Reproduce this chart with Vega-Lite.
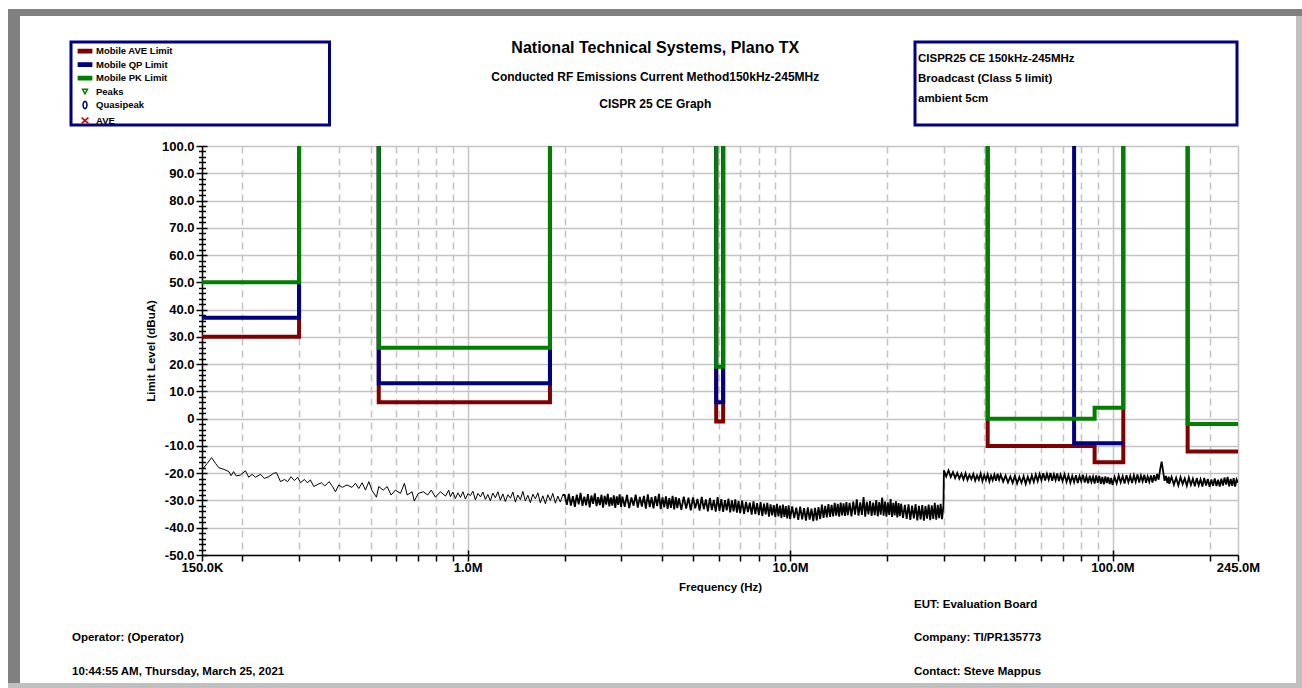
{
"$schema": "https://vega.github.io/schema/vega-lite/v6.json",
"background": "white",
"padding": {"left": 8, "top": 9, "right": 0, "bottom": 0},
"config": {"font": "Liberation Sans", "view": {"stroke": null}, "concat": {"spacing": 0}},
"datasets": {
"legendItems": [
{"series": "Mobile AVE Limit"}, {"series": "Mobile QP Limit"}, {"series": "Mobile PK Limit"},
{"series": "Peaks"}, {"series": "Quasipeak"}, {"series": "AVE"}
],
"limits": [
{"limit": "AVE", "band": "LW", "f": 0.15, "dB": 30}, {"limit": "AVE", "band": "LW", "f": 0.3, "dB": 30}, {"limit": "AVE", "band": "LW", "f": 0.3, "dB": 100},
{"limit": "AVE", "band": "MW", "f": 0.53, "dB": 100}, {"limit": "AVE", "band": "MW", "f": 0.53, "dB": 6}, {"limit": "AVE", "band": "MW", "f": 1.8, "dB": 6}, {"limit": "AVE", "band": "MW", "f": 1.8, "dB": 100},
{"limit": "AVE", "band": "SW", "f": 5.9, "dB": 100}, {"limit": "AVE", "band": "SW", "f": 5.9, "dB": -1}, {"limit": "AVE", "band": "SW", "f": 6.2, "dB": -1}, {"limit": "AVE", "band": "SW", "f": 6.2, "dB": 100},
{"limit": "AVE", "band": "VHF", "f": 41, "dB": 100}, {"limit": "AVE", "band": "VHF", "f": 41, "dB": -10}, {"limit": "AVE", "band": "VHF", "f": 88, "dB": -10}, {"limit": "AVE", "band": "VHF", "f": 88, "dB": -16}, {"limit": "AVE", "band": "VHF", "f": 108, "dB": -16}, {"limit": "AVE", "band": "VHF", "f": 108, "dB": 100},
{"limit": "AVE", "band": "DAB", "f": 171, "dB": 100}, {"limit": "AVE", "band": "DAB", "f": 171, "dB": -12}, {"limit": "AVE", "band": "DAB", "f": 245, "dB": -12},
{"limit": "QP", "band": "LW", "f": 0.15, "dB": 37}, {"limit": "QP", "band": "LW", "f": 0.3, "dB": 37}, {"limit": "QP", "band": "LW", "f": 0.3, "dB": 100},
{"limit": "QP", "band": "MW", "f": 0.53, "dB": 100}, {"limit": "QP", "band": "MW", "f": 0.53, "dB": 13}, {"limit": "QP", "band": "MW", "f": 1.8, "dB": 13}, {"limit": "QP", "band": "MW", "f": 1.8, "dB": 100},
{"limit": "QP", "band": "SW", "f": 5.9, "dB": 100}, {"limit": "QP", "band": "SW", "f": 5.9, "dB": 6}, {"limit": "QP", "band": "SW", "f": 6.2, "dB": 6}, {"limit": "QP", "band": "SW", "f": 6.2, "dB": 100},
{"limit": "QP", "band": "FM", "f": 76, "dB": 100}, {"limit": "QP", "band": "FM", "f": 76, "dB": -9}, {"limit": "QP", "band": "FM", "f": 108, "dB": -9},
{"limit": "PK", "band": "LW", "f": 0.15, "dB": 50}, {"limit": "PK", "band": "LW", "f": 0.3, "dB": 50}, {"limit": "PK", "band": "LW", "f": 0.3, "dB": 100},
{"limit": "PK", "band": "MW", "f": 0.53, "dB": 100}, {"limit": "PK", "band": "MW", "f": 0.53, "dB": 26}, {"limit": "PK", "band": "MW", "f": 1.8, "dB": 26}, {"limit": "PK", "band": "MW", "f": 1.8, "dB": 100},
{"limit": "PK", "band": "SW", "f": 5.9, "dB": 100}, {"limit": "PK", "band": "SW", "f": 5.9, "dB": 19}, {"limit": "PK", "band": "SW", "f": 6.2, "dB": 19}, {"limit": "PK", "band": "SW", "f": 6.2, "dB": 100},
{"limit": "PK", "band": "VHF", "f": 41, "dB": 100}, {"limit": "PK", "band": "VHF", "f": 41, "dB": 0}, {"limit": "PK", "band": "VHF", "f": 88, "dB": 0}, {"limit": "PK", "band": "VHF", "f": 88, "dB": 4}, {"limit": "PK", "band": "VHF", "f": 108, "dB": 4}, {"limit": "PK", "band": "VHF", "f": 108, "dB": 100},
{"limit": "PK", "band": "DAB", "f": 171, "dB": 100}, {"limit": "PK", "band": "DAB", "f": 171, "dB": -2}, {"limit": "PK", "band": "DAB", "f": 245, "dB": -2}
],
"trace": [
{"f":0.1513,"dB":-18.2},{"f":0.1557,"dB":-16.4},{"f":0.1606,"dB":-14.3},{"f":0.1652,"dB":-16.4},{"f":0.1692,"dB":-18.0},{"f":0.1754,"dB":-18.6},{"f":0.1817,"dB":-19.4},{"f":0.1847,"dB":-20.9},{"f":0.188,"dB":-19.4},{"f":0.1915,"dB":-21.0},
{"f":0.1974,"dB":-20.7},{"f":0.2046,"dB":-19.1},{"f":0.2094,"dB":-21.5},{"f":0.2145,"dB":-20.4},{"f":0.2197,"dB":-21.5},{"f":0.2277,"dB":-20.4},{"f":0.2343,"dB":-21.9},{"f":0.2416,"dB":-21.3},{"f":0.2495,"dB":-20.1},{"f":0.2554,"dB":-19.8},
{"f":0.2627,"dB":-23.1},{"f":0.2703,"dB":-22.3},{"f":0.2764,"dB":-23.1},{"f":0.2833,"dB":-21.3},{"f":0.2901,"dB":-22.7},{"f":0.2972,"dB":-21.5},{"f":0.303,"dB":-23.5},{"f":0.3118,"dB":-22.3},{"f":0.3181,"dB":-23.5},{"f":0.3254,"dB":-22.5},
{"f":0.3333,"dB":-24.9},{"f":0.3431,"dB":-24.1},{"f":0.3518,"dB":-23.5},{"f":0.3605,"dB":-24.7},{"f":0.3718,"dB":-23.1},{"f":0.3809,"dB":-24.9},{"f":0.389,"dB":-26.8},{"f":0.3984,"dB":-24.3},{"f":0.4082,"dB":-25.2},{"f":0.4224,"dB":-24.3},
{"f":0.4376,"dB":-25.2},{"f":0.4487,"dB":-23.7},{"f":0.4596,"dB":-25.6},{"f":0.4708,"dB":-23.5},{"f":0.482,"dB":-26.2},{"f":0.4937,"dB":-23.1},{"f":0.5054,"dB":-26.4},{"f":0.5213,"dB":-28.8},{"f":0.53,"dB":-24.9},{"f":0.5473,"dB":-26.2},
{"f":0.5628,"dB":-24.9},{"f":0.579,"dB":-28.0},{"f":0.5971,"dB":-26.2},{"f":0.6188,"dB":-27.4},{"f":0.6367,"dB":-23.7},{"f":0.6493,"dB":-28.0},{"f":0.6727,"dB":-26.8},{"f":0.6831,"dB":-30.2},{"f":0.7031,"dB":-27.4},{"f":0.7289,"dB":-26.8},
{"f":0.7514,"dB":-28.0},{"f":0.7713,"dB":-26.2},{"f":0.7945,"dB":-28.8},{"f":0.8234,"dB":-26.8},{"f":0.8533,"dB":-28.4},{"f":0.8736,"dB":-26.2},
{"f":0.884,"dB":-28.6},{"f":0.9,"dB":-26.9},{"f":0.916,"dB":-29.3},{"f":0.933,"dB":-27.2},{"f":0.95,"dB":-28.9},{"f":0.967,"dB":-26.8},{"f":0.984,"dB":-29.5},{"f":1.002,"dB":-27.5},{"f":1.02,"dB":-28.2},{"f":1.038,"dB":-26.6},
{"f":1.057,"dB":-29.8},{"f":1.076,"dB":-27.4},{"f":1.096,"dB":-28.7},{"f":1.115,"dB":-26.9},{"f":1.135,"dB":-29.6},{"f":1.155,"dB":-27.8},{"f":1.176,"dB":-30.1},{"f":1.197,"dB":-27.3},{"f":1.219,"dB":-29.0},{"f":1.241,"dB":-26.8},
{"f":1.263,"dB":-29.9},{"f":1.286,"dB":-27.6},{"f":1.309,"dB":-30.4},{"f":1.333,"dB":-27.9},{"f":1.357,"dB":-29.2},{"f":1.381,"dB":-26.9},{"f":1.406,"dB":-30.6},{"f":1.431,"dB":-28.0},{"f":1.457,"dB":-29.7},{"f":1.483,"dB":-26.7},
{"f":1.51,"dB":-30.2},{"f":1.537,"dB":-28.1},{"f":1.565,"dB":-30.8},{"f":1.593,"dB":-27.7},{"f":1.622,"dB":-29.4},{"f":1.651,"dB":-27.2},{"f":1.68,"dB":-30.9},{"f":1.711,"dB":-28.3},{"f":1.742,"dB":-31.2},{"f":1.773,"dB":-27.9},
{"f":1.805,"dB":-30.0},{"f":1.837,"dB":-27.4},{"f":1.871,"dB":-31.0},{"f":1.904,"dB":-28.4},{"f":1.938,"dB":-30.6},{"f":1.973,"dB":-27.9},
{"f":2.0,"dB":-28.0},{"f":2.03,"dB":-31.6},{"f":2.06,"dB":-27.6},{"f":2.09,"dB":-31.9},{"f":2.12,"dB":-28.4},{"f":2.15,"dB":-32.3},{"f":2.18,"dB":-27.9},{"f":2.21,"dB":-31.4},{"f":2.24,"dB":-27.2},{"f":2.27,"dB":-32.0},
{"f":2.3,"dB":-28.6},{"f":2.33,"dB":-31.8},{"f":2.36,"dB":-27.7},{"f":2.39,"dB":-32.5},{"f":2.42,"dB":-28.2},{"f":2.45,"dB":-31.2},{"f":2.48,"dB":-27.4},{"f":2.51,"dB":-32.1},{"f":2.54,"dB":-28.8},{"f":2.57,"dB":-31.7},
{"f":2.6,"dB":-27.9},{"f":2.63,"dB":-32.6},{"f":2.66,"dB":-28.3},{"f":2.69,"dB":-31.5},{"f":2.72,"dB":-27.6},{"f":2.75,"dB":-32.2},{"f":2.78,"dB":-28.9},{"f":2.81,"dB":-31.9},{"f":2.84,"dB":-28.1},{"f":2.87,"dB":-32.7},
{"f":2.9,"dB":-28.5},{"f":2.93,"dB":-31.6},{"f":2.96,"dB":-27.8},{"f":2.99,"dB":-32.4},
{"f":3.02,"dB":-28.6},{"f":3.07,"dB":-32.3},{"f":3.12,"dB":-28.0},{"f":3.17,"dB":-32.8},{"f":3.22,"dB":-28.9},{"f":3.27,"dB":-31.9},{"f":3.32,"dB":-27.9},{"f":3.37,"dB":-32.6},{"f":3.42,"dB":-28.7},{"f":3.47,"dB":-32.2},
{"f":3.52,"dB":-28.3},{"f":3.57,"dB":-33.0},{"f":3.62,"dB":-27.8},{"f":3.67,"dB":-32.4},{"f":3.72,"dB":-28.8},{"f":3.77,"dB":-32.9},{"f":3.82,"dB":-28.4},{"f":3.87,"dB":-32.1},{"f":3.92,"dB":-27.6},{"f":3.97,"dB":-33.2},
{"f":4.02,"dB":-28.9},{"f":4.07,"dB":-32.5},{"f":4.12,"dB":-28.5},{"f":4.17,"dB":-33.1},{"f":4.22,"dB":-29.1},{"f":4.27,"dB":-32.7},{"f":4.32,"dB":-28.3},{"f":4.37,"dB":-33.3},{"f":4.42,"dB":-28.8},{"f":4.47,"dB":-32.8},
{"f":4.52,"dB":-29.2},{"f":4.6,"dB":-33.4},{"f":4.68,"dB":-28.6},{"f":4.76,"dB":-33.0},{"f":4.84,"dB":-29.0},{"f":4.92,"dB":-33.6},{"f":5.0,"dB":-28.9},{"f":5.08,"dB":-32.9},{"f":5.16,"dB":-29.4},{"f":5.24,"dB":-33.7},
{"f":5.32,"dB":-28.7},{"f":5.4,"dB":-33.2},{"f":5.48,"dB":-29.6},{"f":5.56,"dB":-34.0},{"f":5.64,"dB":-29.1},{"f":5.72,"dB":-33.5},{"f":5.8,"dB":-29.8},{"f":5.88,"dB":-34.1},{"f":5.96,"dB":-28.8},{"f":6.04,"dB":-33.8},
{"f":6.12,"dB":-29.5},{"f":6.2,"dB":-34.2},{"f":6.28,"dB":-29.9},{"f":6.36,"dB":-33.6},{"f":6.44,"dB":-29.3},{"f":6.52,"dB":-34.4},{"f":6.6,"dB":-30.0},{"f":6.68,"dB":-34.0},{"f":6.76,"dB":-29.6},{"f":6.84,"dB":-34.5},
{"f":6.92,"dB":-30.2},
{"f":7.0,"dB":-34.6},{"f":7.1,"dB":-30.1},{"f":7.2,"dB":-34.9},{"f":7.3,"dB":-30.5},{"f":7.4,"dB":-34.3},{"f":7.5,"dB":-30.8},{"f":7.6,"dB":-35.2},{"f":7.7,"dB":-30.3},{"f":7.8,"dB":-35.0},{"f":7.9,"dB":-31.0},
{"f":8.0,"dB":-35.4},{"f":8.1,"dB":-30.6},{"f":8.2,"dB":-35.7},{"f":8.3,"dB":-31.2},{"f":8.4,"dB":-35.1},{"f":8.5,"dB":-30.9},{"f":8.6,"dB":-35.9},{"f":8.7,"dB":-31.4},{"f":8.8,"dB":-35.5},{"f":8.9,"dB":-31.7},
{"f":9.0,"dB":-36.1},{"f":9.1,"dB":-31.2},{"f":9.2,"dB":-35.8},{"f":9.3,"dB":-31.9},{"f":9.4,"dB":-36.4},{"f":9.5,"dB":-31.5},{"f":9.6,"dB":-36.0},{"f":9.7,"dB":-32.1},{"f":9.8,"dB":-36.6},{"f":9.9,"dB":-31.8},
{"f":10.0,"dB":-36.8},{"f":10.15,"dB":-32.2},{"f":10.3,"dB":-36.5},{"f":10.45,"dB":-32.6},{"f":10.6,"dB":-37.1},{"f":10.75,"dB":-32.3},{"f":10.9,"dB":-36.9},{"f":11.05,"dB":-32.8},{"f":11.2,"dB":-37.4},{"f":11.35,"dB":-32.5},
{"f":11.5,"dB":-37.0},{"f":11.65,"dB":-33.0},{"f":11.8,"dB":-37.6},{"f":11.95,"dB":-32.7},{"f":12.1,"dB":-37.3},{"f":12.25,"dB":-32.4},{"f":12.4,"dB":-36.8},{"f":12.55,"dB":-31.5},{"f":12.7,"dB":-36.4},{"f":12.85,"dB":-32.0},
{"f":13.0,"dB":-36.2},{"f":13.15,"dB":-31.3},{"f":13.3,"dB":-36.0},{"f":13.45,"dB":-31.6},{"f":13.6,"dB":-35.8},{"f":13.75,"dB":-30.9},{"f":13.9,"dB":-35.6},{"f":14.05,"dB":-31.2},{"f":14.2,"dB":-35.9},{"f":14.35,"dB":-30.8},
{"f":14.5,"dB":-35.5},{"f":14.65,"dB":-31.1},{"f":14.8,"dB":-35.7},{"f":14.95,"dB":-30.6},
{"f":15.1,"dB":-35.4},{"f":15.3,"dB":-30.9},{"f":15.5,"dB":-35.8},{"f":15.7,"dB":-30.4},{"f":15.9,"dB":-35.2},{"f":16.1,"dB":-29.6},{"f":16.3,"dB":-35.6},{"f":16.5,"dB":-30.7},{"f":16.7,"dB":-35.3},{"f":16.9,"dB":-28.8},
{"f":17.1,"dB":-35.9},{"f":17.3,"dB":-30.5},{"f":17.5,"dB":-35.1},{"f":17.7,"dB":-30.2},{"f":17.9,"dB":-35.7},{"f":18.1,"dB":-30.8},{"f":18.3,"dB":-35.4},{"f":18.5,"dB":-29.9},{"f":18.7,"dB":-35.8},{"f":18.9,"dB":-30.6},
{"f":19.1,"dB":-35.2},{"f":19.3,"dB":-28.9},{"f":19.5,"dB":-35.6},{"f":19.7,"dB":-30.4},{"f":19.9,"dB":-35.9},{"f":20.1,"dB":-30.7},{"f":20.3,"dB":-35.3},{"f":20.5,"dB":-29.5},{"f":20.7,"dB":-36.0},{"f":20.9,"dB":-30.9},
{"f":21.1,"dB":-35.5},{"f":21.3,"dB":-30.3},{"f":21.5,"dB":-36.2},{"f":21.7,"dB":-31.0},{"f":21.9,"dB":-35.8},
{"f":22.1,"dB":-31.2},{"f":22.4,"dB":-36.4},{"f":22.7,"dB":-31.6},{"f":23.0,"dB":-36.8},{"f":23.3,"dB":-31.4},{"f":23.6,"dB":-37.1},{"f":23.9,"dB":-31.9},{"f":24.2,"dB":-36.6},{"f":24.5,"dB":-31.3},{"f":24.8,"dB":-37.3},
{"f":25.1,"dB":-32.0},{"f":25.4,"dB":-36.9},{"f":25.7,"dB":-31.7},{"f":26.0,"dB":-37.4},{"f":26.3,"dB":-32.1},{"f":26.6,"dB":-36.7},{"f":26.9,"dB":-31.5},{"f":27.2,"dB":-37.2},{"f":27.5,"dB":-31.8},{"f":27.8,"dB":-36.8},
{"f":28.1,"dB":-30.9},{"f":28.4,"dB":-37.0},{"f":28.7,"dB":-31.6},{"f":29.0,"dB":-36.5},{"f":29.3,"dB":-31.2},{"f":29.6,"dB":-36.9},{"f":29.9,"dB":-31.8},
{"f":30.0,"dB":-18.9},{"f":30.5,"dB":-21.2},{"f":31.0,"dB":-19.0},{"f":31.5,"dB":-21.4},{"f":32.0,"dB":-19.6},{"f":32.5,"dB":-21.8},{"f":33.0,"dB":-19.9},{"f":33.5,"dB":-22.0},{"f":34.0,"dB":-20.2},{"f":34.5,"dB":-22.3},
{"f":35.0,"dB":-20.0},{"f":35.5,"dB":-22.5},{"f":36.0,"dB":-20.6},{"f":36.5,"dB":-22.2},{"f":37.0,"dB":-20.3},{"f":37.5,"dB":-22.7},{"f":38.0,"dB":-20.8},{"f":38.5,"dB":-22.4},{"f":39.0,"dB":-20.1},{"f":39.5,"dB":-22.9},
{"f":40.0,"dB":-20.7},{"f":40.5,"dB":-22.5},{"f":41.0,"dB":-20.4},{"f":41.5,"dB":-23.0},{"f":42.0,"dB":-20.9},{"f":42.5,"dB":-22.6},{"f":43.0,"dB":-20.5},{"f":43.5,"dB":-22.8},{"f":44.0,"dB":-20.2},{"f":44.5,"dB":-22.4},
{"f":45.0,"dB":-20.6},{"f":45.8,"dB":-23.1},{"f":46.6,"dB":-20.9},{"f":47.4,"dB":-23.4},{"f":48.2,"dB":-21.2},{"f":49.0,"dB":-23.6},{"f":49.8,"dB":-21.0},{"f":50.6,"dB":-23.8},{"f":51.4,"dB":-21.4},{"f":52.2,"dB":-23.5},
{"f":53.0,"dB":-21.1},{"f":53.8,"dB":-23.9},{"f":54.6,"dB":-21.3},{"f":55.4,"dB":-23.4},{"f":56.2,"dB":-20.8},{"f":57.0,"dB":-23.2},{"f":57.8,"dB":-20.5},{"f":58.6,"dB":-22.9},{"f":59.4,"dB":-20.3},{"f":60.2,"dB":-22.6},
{"f":61.0,"dB":-20.0},{"f":61.8,"dB":-22.7},{"f":62.6,"dB":-20.2},{"f":63.4,"dB":-22.4},{"f":64.2,"dB":-19.9},{"f":65.0,"dB":-22.8},{"f":65.8,"dB":-20.4},{"f":66.6,"dB":-22.5},{"f":67.4,"dB":-20.1},{"f":68.2,"dB":-22.9},
{"f":69.0,"dB":-20.6},
{"f":70,"dB":-22.9},{"f":71,"dB":-20.4},{"f":72,"dB":-23.2},{"f":73,"dB":-20.8},{"f":74,"dB":-23.5},{"f":75,"dB":-21.0},{"f":76,"dB":-23.3},{"f":77,"dB":-20.7},{"f":78,"dB":-23.6},{"f":79,"dB":-21.1},
{"f":80,"dB":-23.0},{"f":81,"dB":-20.6},{"f":82,"dB":-23.4},{"f":83,"dB":-21.2},{"f":84,"dB":-23.7},{"f":85,"dB":-20.9},{"f":86,"dB":-23.2},{"f":87,"dB":-21.3},{"f":88,"dB":-23.8},{"f":89,"dB":-20.8},
{"f":90,"dB":-23.5},{"f":91,"dB":-21.0},{"f":92,"dB":-23.9},{"f":93,"dB":-21.4},{"f":94,"dB":-24.1},{"f":95,"dB":-21.2},{"f":96,"dB":-23.6},{"f":97,"dB":-21.5},{"f":98,"dB":-24.0},{"f":99,"dB":-21.7},
{"f":100,"dB":-24.3},{"f":101.5,"dB":-21.4},{"f":103,"dB":-23.7},{"f":104.5,"dB":-20.9},{"f":106,"dB":-23.4},{"f":107.5,"dB":-21.1},{"f":109,"dB":-23.8},{"f":110.5,"dB":-20.7},{"f":112,"dB":-23.3},{"f":113.5,"dB":-21.0},
{"f":115,"dB":-23.6},{"f":116.5,"dB":-20.8},{"f":118,"dB":-23.1},{"f":119.5,"dB":-20.5},{"f":121,"dB":-23.4},{"f":122.5,"dB":-20.9},{"f":124,"dB":-23.0},{"f":125.5,"dB":-20.6},{"f":127,"dB":-23.5},{"f":128.5,"dB":-21.2},
{"f":130,"dB":-23.2},{"f":131.5,"dB":-20.8},{"f":133,"dB":-23.4},{"f":134.5,"dB":-20.7},{"f":136,"dB":-22.9},{"f":137.5,"dB":-20.3},{"f":139,"dB":-22.4},{"f":140.5,"dB":-18.6},{"f":142,"dB":-15.8},{"f":143.5,"dB":-19.2},
{"f":145,"dB":-22.8},{"f":146.5,"dB":-21.0},{"f":148,"dB":-23.6},{"f":149.5,"dB":-21.3},
{"f":150,"dB":-23.9},{"f":152.5,"dB":-21.4},{"f":155,"dB":-24.2},{"f":157.5,"dB":-21.7},{"f":160,"dB":-24.5},{"f":162.5,"dB":-21.5},{"f":165,"dB":-24.0},{"f":167.5,"dB":-21.9},{"f":170,"dB":-24.6},{"f":172.5,"dB":-21.6},
{"f":175,"dB":-24.3},{"f":177.5,"dB":-22.0},{"f":180,"dB":-24.8},{"f":182.5,"dB":-21.8},{"f":185,"dB":-24.4},{"f":187.5,"dB":-22.2},{"f":190,"dB":-24.9},{"f":192.5,"dB":-21.7},{"f":195,"dB":-24.5},{"f":197.5,"dB":-22.1},
{"f":200,"dB":-25.0},{"f":202.5,"dB":-22.3},{"f":205,"dB":-24.6},{"f":207.5,"dB":-21.9},{"f":210,"dB":-24.7},{"f":212.5,"dB":-22.4},{"f":215,"dB":-24.9},{"f":217.5,"dB":-22.0},{"f":220,"dB":-24.5},{"f":222.5,"dB":-21.6},
{"f":225,"dB":-24.2},{"f":227.5,"dB":-21.4},{"f":230,"dB":-24.8},{"f":232.5,"dB":-22.1},{"f":235,"dB":-24.6},{"f":237.5,"dB":-21.8},{"f":240,"dB":-24.9},{"f":242.5,"dB":-22.3},{"f":245,"dB":-23.5}
]
},
"spacing": 0,
"vconcat": [
{"width": 1294, "height": 7, "view": {"fill": "#808080", "stroke": null}, "data": {"values": []}, "mark": "point"},
{"spacing": 0, "hconcat": [
  {"width": 12, "height": 667, "view": {"fill": "#808080", "stroke": null}, "data": {"values": []}, "mark": "point"},
  {"spacing": 0, "vconcat": [
    {"width": 1276, "height": 24, "data": {"values": []}, "mark": "point"},
    {"bounds": "flush", "spacing": 0, "hconcat": [
      {"width": 51, "height": 83, "data": {"values": []}, "mark": "point"},
      {
        "width": 258.5, "height": 83,
        "view": {"stroke": "#000080", "strokeWidth": 3},
        "data": {"name": "legendItems"},
        "mark": {"type": "point", "opacity": 0, "strokeWidth": 1.5},
        "encoding": {
          "fill": {"field": "series", "type": "nominal",
            "scale": {"domain": ["Mobile AVE Limit", "Mobile QP Limit", "Mobile PK Limit", "Peaks", "Quasipeak", "AVE"],
                      "range": ["#800000", "#000080", "#008000", "transparent", "transparent", "transparent"]},
            "legend": {"title": null, "orient": "none", "legendX": 69.5, "legendY": 34.5, "padding": 0,
              "symbolSize": 169, "rowPadding": 0.5, "labelOffset": 3.5, "labelFontSize": 9.5, "labelFontWeight": "bold",
              "labelColor": "black", "symbolOpacity": 1, "symbolStrokeWidth": 1.5}},
          "stroke": {"field": "series", "type": "nominal",
            "scale": {"domain": ["Mobile AVE Limit", "Mobile QP Limit", "Mobile PK Limit", "Peaks", "Quasipeak", "AVE"],
                      "range": ["#800000", "#000080", "#008000", "#008000", "#000080", "#c00000"]},
            "legend": {"title": null, "orient": "none", "legendX": 69.5, "legendY": 34.5, "padding": 0,
              "symbolSize": 169, "rowPadding": 0.5, "labelOffset": 3.5, "labelFontSize": 9.5, "labelFontWeight": "bold",
              "labelColor": "black", "symbolOpacity": 1, "symbolStrokeWidth": 1.5}},
          "shape": {"field": "series", "type": "nominal",
            "scale": {"domain": ["Mobile AVE Limit", "Mobile QP Limit", "Mobile PK Limit", "Peaks", "Quasipeak", "AVE"],
                      "range": ["M-1.02,-0.25L1.02,-0.25L1.02,0.25L-1.02,0.25Z", "M-1.02,-0.25L1.02,-0.25L1.02,0.25L-1.02,0.25Z", "M-1.02,-0.25L1.02,-0.25L1.02,0.25L-1.02,0.25Z", "M-0.38,-0.36L0.38,-0.36L0,0.38Z", "M0,-0.56L0.15,-0.485L0.26,-0.28L0.3,0L0.26,0.28L0.15,0.485L0,0.56L-0.15,0.485L-0.26,0.28L-0.3,0L-0.26,-0.28L-0.15,-0.485Z", "M-0.52,-0.45L0.52,0.45M0.52,-0.45L-0.52,0.45"]},
            "legend": {"title": null, "orient": "none", "legendX": 69.5, "legendY": 34.5, "padding": 0,
              "symbolSize": 169, "rowPadding": 0.5, "labelOffset": 3.5, "labelFontSize": 9.5, "labelFontWeight": "bold",
              "labelColor": "black", "symbolOpacity": 1, "symbolStrokeWidth": 1.5}}
        }
      },
      {
        "width": 584.5, "height": 83, "data": {"values": []}, "mark": "point",
        "title": {"text": "National Technical Systems, Plano TX",
          "subtitle": ["Conducted RF Emissions Current Method150kHz-245MHz", "CISPR 25 CE Graph"],
          "orient": "top", "anchor": "middle", "frame": "group", "baseline": "top",
          "fontSize": 16, "fontWeight": "bold", "color": "black",
          "subtitleFontSize": 12, "subtitleFontWeight": "bold", "subtitleColor": "black",
          "subtitlePadding": 15.8, "subtitleLineHeight": 27, "dx": 33, "offset": -67.8}
      },
      {
        "width": 322, "height": 83, "view": {"stroke": "#000080", "strokeWidth": 3},
        "data": {"values": []}, "mark": "point",
        "title": {"text": ["CISPR25 CE 150kHz-245MHz", "Broadcast (Class 5 limit)", "ambient 5cm"],
          "orient": "top", "anchor": "start", "frame": "group", "baseline": "top",
          "fontSize": 11.5, "fontWeight": "bold", "color": "black", "lineHeight": 20, "dx": 3, "offset": -62}
      }
    ]},
    {"width": 1, "height": 13, "data": {"values": []}, "mark": "point"},
    {"bounds": "flush", "spacing": 0, "hconcat": [
      {"width": 181.5, "height": 409, "data": {"values": []}, "mark": "point"},
      {
        "width": 1036, "height": 409,
        "layer": [
          {
            "data": {"name": "trace"},
            "transform": [{"filter": "datum.f <= 2.0"}],
            "mark": {"type": "line", "color": "black", "strokeWidth": 1, "clip": true},
            "encoding": {
              "x": {"field": "f", "type": "quantitative", "scale": {"type": "log", "domain": [0.15, 245], "nice": false},
                "axis": {"orient": "bottom",
                  "values": [0.15, 0.2, 0.3, 0.4, 0.5, 0.6, 0.7, 0.8, 0.9, 1, 2, 3, 4, 5, 6, 7, 8, 9, 10, 20, 30, 40, 50, 60, 70, 80, 90, 100, 200, 245],
                  "labelExpr": "datum.value == 0.15 ? '150.0K' : datum.value == 1 ? '1.0M' : datum.value == 10 ? '10.0M' : datum.value == 100 ? '100.0M' : datum.value == 245 ? '245.0M' : ''",
                  "labelFontSize": 13, "labelFontWeight": "bold", "labelColor": "black", "labelPadding": 0.5,
                  "labelOverlap": false, "labelFlush": false, "labelBound": false,
                  "tickSize": 6, "tickWidth": 1.5, "tickColor": "black",
                  "domainColor": "black", "domainWidth": 1.5,
                  "grid": true, "gridColor": "#c4c4c4", "gridWidth": 1.5,
                  "gridDash": {"condition": {"test": "indexof([1, 10, 100, 245], datum.value) >= 0", "value": []}, "value": [7, 5]},
                  "title": "Frequency (Hz)", "titleFontSize": 11.5, "titleFontWeight": "bold", "titleColor": "black", "titlePadding": 7}},
              "y": {"field": "dB", "type": "quantitative", "scale": {"domain": [-50, 100], "nice": false, "zero": false},
                "axis": {"orient": "left",
                  "values": [-50, -40, -30, -20, -10, 0, 10, 20, 30, 40, 50, 60, 70, 80, 90, 100],
                  "labelExpr": "datum.value == 0 ? '0' : (datum.value < 0 ? '-' : '') + format(abs(datum.value), '.1f')",
                  "labelFontSize": 13, "labelFontWeight": "bold", "labelColor": "black", "labelPadding": 2,
                  "labelOverlap": false, "labelFlush": false,
                  "tickSize": 6, "tickWidth": 1.5, "tickColor": "black",
                  "domainColor": "black", "domainWidth": 1.5,
                  "grid": true, "gridColor": "#c4c4c4", "gridWidth": 1.5,
                  "title": "Limit Level (dBuA)", "titleFontSize": 11.5, "titleFontWeight": "bold", "titleColor": "black", "titlePadding": 5}}
            }
          },
          {
            "data": {"name": "trace"},
            "transform": [{"filter": "datum.f >= 1.97"}],
            "mark": {"type": "line", "color": "black", "strokeWidth": 1.8, "clip": true},
            "encoding": {
              "x": {"field": "f", "type": "quantitative", "scale": {"type": "log", "domain": [0.15, 245], "nice": false}, "axis": null},
              "y": {"field": "dB", "type": "quantitative", "scale": {"domain": [-50, 100], "nice": false, "zero": false}, "axis": null}
            }
          },
          {
            "data": {"name": "limits"},
            "transform": [{"filter": {"field": "limit", "equal": "AVE"}}],
            "mark": {"type": "line", "color": "#800000", "strokeWidth": 4, "clip": true, "strokeJoin": "miter"},
            "encoding": {
              "x": {"field": "f", "type": "quantitative", "scale": {"type": "log", "domain": [0.15, 245], "nice": false}, "axis": null},
              "y": {"field": "dB", "type": "quantitative", "scale": {"domain": [-50, 100], "nice": false, "zero": false},
                "axis": {"orient": "left", "values": [-48, -46, -44, -42, -38, -36, -34, -32, -28, -26, -24, -22, -18, -16, -14, -12, -8, -6, -4, -2, 2, 4, 6, 8, 12, 14, 16, 18, 22, 24, 26, 28, 32, 34, 36, 38, 42, 44, 46, 48, 52, 54, 56, 58, 62, 64, 66, 68, 72, 74, 76, 78, 82, 84, 86, 88, 92, 94, 96, 98],
                  "labels": false, "domain": false, "grid": false, "tickSize": 3.5, "tickWidth": 1.5, "tickColor": "black", "title": null}},
              "detail": {"field": "band"}
            }
          },
          {
            "data": {"name": "limits"},
            "transform": [{"filter": {"field": "limit", "equal": "QP"}}],
            "mark": {"type": "line", "color": "#000080", "strokeWidth": 4, "clip": true, "strokeJoin": "miter"},
            "encoding": {
              "x": {"field": "f", "type": "quantitative", "scale": {"type": "log", "domain": [0.15, 245], "nice": false},
                "axis": {"orient": "top", "offset": -409, "values": [1, 10, 100], "labels": false, "domain": false, "grid": false, "tickSize": 5, "tickWidth": 1.5, "tickColor": "black", "title": null}},
              "y": {"field": "dB", "type": "quantitative", "scale": {"domain": [-50, 100], "nice": false, "zero": false},
                "axis": {"orient": "right", "offset": -1036, "values": [-50, -40, -30, -20, -10, 0, 10, 20, 30, 40, 50, 60, 70, 80, 90, 100],
                  "labels": false, "domain": false, "grid": false, "tickSize": 5, "tickWidth": 1.5, "tickColor": "black", "title": null}},
              "detail": {"field": "band"}
            }
          },
          {
            "data": {"name": "limits"},
            "transform": [{"filter": {"field": "limit", "equal": "PK"}}],
            "mark": {"type": "line", "color": "#008000", "strokeWidth": 4, "clip": true, "strokeJoin": "miter"},
            "encoding": {
              "x": {"field": "f", "type": "quantitative", "scale": {"type": "log", "domain": [0.15, 245], "nice": false}, "axis": null},
              "y": {"field": "dB", "type": "quantitative", "scale": {"domain": [-50, 100], "nice": false, "zero": false},
                "axis": {"orient": "right", "offset": -1036, "values": [-48, -46, -44, -42, -38, -36, -34, -32, -28, -26, -24, -22, -18, -16, -14, -12, -8, -6, -4, -2, 2, 4, 6, 8, 12, 14, 16, 18, 22, 24, 26, 28, 32, 34, 36, 38, 42, 44, 46, 48, 52, 54, 56, 58, 62, 64, 66, 68, 72, 74, 76, 78, 82, 84, 86, 88, 92, 94, 96, 98],
                  "labels": false, "domain": false, "grid": false, "tickSize": 3.5, "tickWidth": 1.5, "tickColor": "black", "title": null}},
              "detail": {"field": "band"}
            }
          }
        ],
        "resolve": {"axis": {"x": "independent", "y": "independent"}}
      }
    ]},
    {"bounds": "flush", "spacing": 0, "hconcat": [
      {"width": 52, "height": 1, "data": {"values": []}, "mark": "point"},
      {
        "width": 842, "height": 1, "data": {"values": []}, "mark": "point",
        "title": {"text": ["Operator: (Operator)", "10:44:55 AM, Thursday, March 25, 2021"],
          "orient": "bottom", "anchor": "start", "frame": "group", "baseline": "top",
          "fontSize": 11.5, "fontWeight": "bold", "color": "black", "lineHeight": 34, "offset": 37.6}
      },
      {
        "width": 330, "height": 1, "data": {"values": []}, "mark": "point",
        "title": {"text": ["EUT: Evaluation Board", "Company: TI/PR135773", "Contact: Steve Mappus"],
          "orient": "bottom", "anchor": "start", "frame": "group", "baseline": "top",
          "fontSize": 11.5, "fontWeight": "bold", "color": "black", "lineHeight": 33.5, "offset": 4.8}
      }
    ]}
  ]},
  {"width": 6, "height": 667, "view": {"fill": "#c0c0c0", "stroke": null}, "data": {"values": []}, "mark": "point"}
]},
{"width": 1294, "height": 5, "view": {"fill": "#c0c0c0", "stroke": null}, "data": {"values": []}, "mark": "point"}
]
}
